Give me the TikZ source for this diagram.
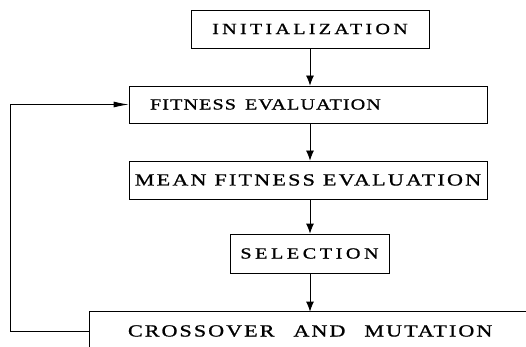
\documentclass[tikz,border=0pt]{standalone}
\usepackage{fontspec}
\setmainfont{Liberation Serif}
\newfontfamily\procfont{Liberation Serif}[FakeStretch=1.3,FakeBold=1]
\newcommand{\lsword}[2]{{\addfontfeature{LetterSpace=#1}#2}}
\usetikzlibrary{arrows.meta}

\begin{document}
\begin{tikzpicture}[x=1pt,y=1pt,yscale=-1,xscale=1,
  proc/.style={draw,line width=0.8pt,inner sep=0pt},
  flow/.style={line width=0.8pt,-{Latex[length=10pt,width=8pt]}},
  back/.style={line width=0.8pt,-{Latex[length=15pt,width=6pt]}}]
\useasboundingbox (0,0) rectangle (526,347);

%Flowchart: Process [id:init]
\node [proc,minimum width=238,minimum height=38,font=\procfont\fontsize{15.5}{17}\selectfont] (init) at (310,29)
  {\lsword{21}{INITIALIZATION}};
%Flowchart: Process [id:fit]
\node [proc,minimum height=37,text width=316,align=left,inner xsep=21,font=\procfont\fontsize{15.5}{17}\selectfont] (fit) at (308,104.5)
  {\lsword{7}{FITNESS}\hspace{9pt}\lsword{7}{EVALUATION}};
%Flowchart: Process [id:mean]
\node [proc,minimum width=358,minimum height=38,font=\procfont\fontsize{17}{19}\selectfont] (mean) at (308,180)
  {\lsword{13}{MEAN}\hspace{8pt}\lsword{13}{FITNESS}\hspace{8pt}\lsword{13}{EVALUATION}};
%Flowchart: Process [id:sel]
\node [proc,minimum width=159,minimum height=39,font=\procfont\fontsize{15.5}{17}\selectfont] (sel) at (309.5,253.5)
  {\lsword{23}{SELECTION}};
%Flowchart: Process [id:cross] (open to the right and below)
\node [proc,draw=none,minimum height=38,text width=374,align=left,inner xsep=38,font=\procfont\fontsize{17}{19}\selectfont] (cross) at (315,331)
  {\lsword{12}{CROSSOVER}\hspace{19pt}\lsword{12}{AND}\hspace{19pt}\lsword{12}{MUTATION}};
\draw [line width=0.8pt] (cross.south west) -- (cross.north west) -- (cross.north east) ;

%Straight Lines [id:flow]
\draw [flow] (init.south -| 310,0) -- (fit.north -| 310,0) ;
\draw [flow] (fit.south -| 310,0) -- (mean.north -| 310,0) ;
\draw [flow] (mean.south -| 310,0) -- (sel.north -| 310,0) ;
\draw [flow] (sel.south -| 310,0) -- (cross.north -| 310,0) ;
%Straight Lines [id:feedback]
\draw [back] (cross.west) -- (10.5,331) -- (10.5,104.5) -- (fit.west) ;

\end{tikzpicture}
\end{document}
